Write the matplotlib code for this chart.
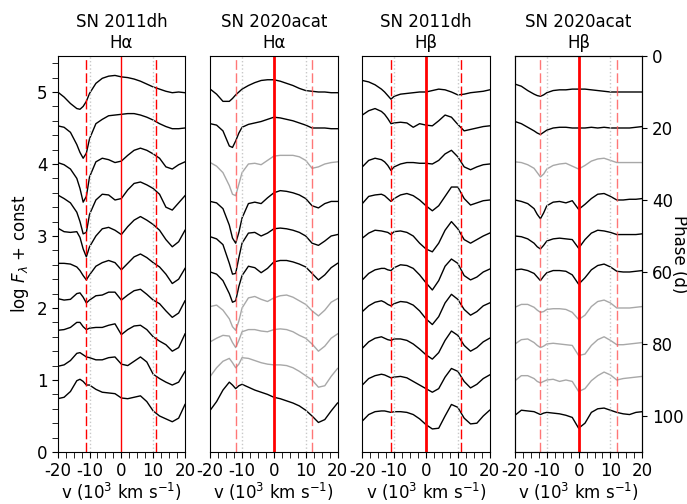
import matplotlib
matplotlib.use('Agg')

import matplotlib.pyplot as plt
from matplotlib.ticker import MultipleLocator

# velocity grid (10^3 km/s), shared by all spectra
vel = [-20, -18, -16, -14, -13, -12, -11, -10, -8, -6, -4, -2, 0,
       2, 4, 6, 8, 10, 12, 14, 16, 18, 20]

titles = ["SN 2011dh\nHα", "SN 2020acat\nHα", "SN 2011dh\nHβ", "SN 2020acat\nHβ"]

# SN 2011dh H-alpha, log F + const, top to bottom
dh_ha = [
    [5.00, 4.93, 4.84, 4.77, 4.76, 4.80, 4.87, 4.98, 5.12, 5.19, 5.22, 5.23, 5.21, 5.20, 5.18, 5.15, 5.11, 5.07, 5.04, 5.01, 4.99, 5.00, 4.99],
    [4.53, 4.51, 4.44, 4.27, 4.16, 4.08, 4.15, 4.35, 4.56, 4.62, 4.67, 4.68, 4.69, 4.70, 4.70, 4.68, 4.65, 4.61, 4.56, 4.52, 4.49, 4.49, 4.50],
    [4.02, 3.99, 3.93, 3.80, 3.66, 3.47, 3.55, 3.82, 4.03, 4.08, 4.06, 4.02, 4.04, 4.12, 4.19, 4.22, 4.19, 4.14, 4.08, 3.96, 3.93, 3.99, 4.03],
    [3.57, 3.52, 3.46, 3.33, 3.20, 3.03, 3.05, 3.30, 3.50, 3.58, 3.57, 3.50, 3.52, 3.64, 3.73, 3.75, 3.71, 3.66, 3.58, 3.40, 3.36, 3.46, 3.56],
    [3.11, 3.06, 3.05, 3.06, 2.98, 2.82, 2.71, 2.85, 3.00, 3.10, 3.12, 3.08, 3.02, 3.13, 3.22, 3.27, 3.22, 3.16, 3.08, 2.95, 2.85, 2.92, 3.08],
    [2.62, 2.62, 2.61, 2.57, 2.52, 2.45, 2.39, 2.46, 2.58, 2.63, 2.66, 2.63, 2.53, 2.62, 2.71, 2.75, 2.70, 2.63, 2.57, 2.47, 2.34, 2.40, 2.55],
    [2.13, 2.11, 2.12, 2.20, 2.21, 2.15, 2.07, 2.11, 2.17, 2.18, 2.22, 2.22, 2.11, 2.18, 2.24, 2.26, 2.19, 2.11, 2.06, 1.96, 1.87, 1.93, 2.10],
    [1.69, 1.70, 1.73, 1.80, 1.80, 1.74, 1.70, 1.72, 1.73, 1.73, 1.76, 1.78, 1.63, 1.70, 1.75, 1.76, 1.70, 1.60, 1.54, 1.49, 1.40, 1.45, 1.64],
    [1.19, 1.21, 1.27, 1.37, 1.38, 1.35, 1.32, 1.31, 1.28, 1.28, 1.31, 1.32, 1.22, 1.20, 1.26, 1.32, 1.25, 1.08, 1.02, 0.97, 0.93, 0.97, 1.12],
    [0.74, 0.76, 0.84, 0.99, 1.01, 0.98, 0.93, 0.93, 0.87, 0.83, 0.82, 0.81, 0.75, 0.74, 0.76, 0.78, 0.70, 0.57, 0.50, 0.46, 0.42, 0.47, 0.66],
]

# SN 2020acat H-alpha
acat_ha = [
    [5.04, 4.97, 4.87, 4.87, 4.91, 4.96, 5.00, 5.04, 5.09, 5.13, 5.16, 5.17, 5.17, 5.15, 5.12, 5.09, 5.05, 5.02, 5.01, 5.00, 5.00, 4.99, 4.99],
    [4.56, 4.54, 4.46, 4.25, 4.23, 4.32, 4.43, 4.51, 4.55, 4.57, 4.59, 4.62, 4.65, 4.64, 4.62, 4.60, 4.57, 4.54, 4.50, 4.50, 4.50, 4.49, 4.49],
    [4.02, 3.97, 3.88, 3.70, 3.58, 3.56, 3.72, 3.88, 4.00, 4.01, 3.99, 4.05, 4.11, 4.12, 4.12, 4.12, 4.10, 4.05, 3.94, 3.96, 4.00, 4.02, 4.03],
    [3.48, 3.46, 3.38, 3.15, 2.97, 2.90, 3.05, 3.25, 3.45, 3.47, 3.45, 3.53, 3.60, 3.63, 3.62, 3.60, 3.57, 3.52, 3.42, 3.39, 3.45, 3.48, 3.48],
    [2.99, 2.96, 2.88, 2.62, 2.47, 2.48, 2.70, 2.90, 3.04, 3.05, 3.00, 3.04, 3.10, 3.11, 3.10, 3.08, 3.05, 3.00, 2.90, 2.87, 2.93, 3.00, 3.02],
    [2.50, 2.47, 2.38, 2.20, 2.08, 2.10, 2.30, 2.45, 2.58, 2.56, 2.49, 2.55, 2.64, 2.66, 2.66, 2.64, 2.61, 2.57, 2.48, 2.39, 2.46, 2.56, 2.62],
    [2.02, 2.04, 1.97, 1.85, 1.74, 1.69, 1.82, 2.00, 2.14, 2.16, 2.12, 2.09, 2.14, 2.17, 2.18, 2.15, 2.10, 2.05, 1.96, 1.89, 1.97, 2.08, 2.13],
    [1.53, 1.58, 1.62, 1.61, 1.52, 1.45, 1.55, 1.67, 1.70, 1.70, 1.68, 1.67, 1.70, 1.71, 1.70, 1.67, 1.62, 1.58, 1.50, 1.40, 1.47, 1.58, 1.64],
    [1.05, 1.17, 1.26, 1.30, 1.24, 1.17, 1.22, 1.31, 1.30, 1.27, 1.24, 1.22, 1.21, 1.21, 1.20, 1.17, 1.12, 1.06, 1.00, 0.90, 0.92, 1.05, 1.16],
    [0.58, 0.70, 0.86, 0.97, 0.93, 0.88, 0.92, 0.94, 0.90, 0.86, 0.83, 0.80, 0.76, 0.74, 0.71, 0.68, 0.64, 0.58, 0.50, 0.41, 0.45, 0.57, 0.68],
]

# SN 2011dh H-beta
dh_hb = [
    [5.16, 5.14, 5.10, 5.04, 5.00, 4.95, 4.90, 4.94, 4.97, 4.98, 4.99, 5.00, 5.00, 5.02, 5.04, 5.03, 5.00, 4.96, 4.97, 4.99, 5.00, 5.01, 5.03],
    [4.68, 4.74, 4.77, 4.73, 4.69, 4.63, 4.56, 4.57, 4.58, 4.57, 4.51, 4.56, 4.54, 4.53, 4.60, 4.68, 4.65, 4.55, 4.46, 4.48, 4.50, 4.52, 4.53],
    [3.96, 4.05, 4.08, 4.06, 4.03, 3.98, 3.91, 3.96, 4.00, 4.02, 4.02, 4.01, 4.01, 4.00, 4.05, 4.14, 4.19, 4.10, 3.96, 3.92, 3.96, 3.99, 4.00],
    [3.45, 3.55, 3.57, 3.58, 3.56, 3.52, 3.48, 3.52, 3.57, 3.59, 3.56, 3.50, 3.42, 3.35, 3.42, 3.55, 3.68, 3.68, 3.52, 3.43, 3.46, 3.49, 3.50],
    [2.97, 3.04, 3.08, 3.07, 3.06, 3.05, 3.02, 3.06, 3.07, 3.05, 3.00, 2.90, 2.82, 2.78, 2.90, 3.08, 3.20, 3.10, 2.95, 2.90, 2.95, 3.00, 3.04],
    [2.39, 2.48, 2.53, 2.55, 2.55, 2.53, 2.52, 2.56, 2.60, 2.59, 2.55, 2.46, 2.35, 2.25, 2.38, 2.58, 2.68, 2.62, 2.45, 2.39, 2.43, 2.50, 2.54],
    [1.95, 2.03, 2.08, 2.10, 2.08, 2.05, 2.03, 2.06, 2.09, 2.08, 2.04, 1.96, 1.85, 1.77, 1.88, 2.07, 2.19, 2.12, 1.98, 1.90, 1.95, 2.03, 2.07],
    [1.44, 1.53, 1.58, 1.60, 1.58, 1.56, 1.55, 1.57, 1.57, 1.55, 1.50, 1.43, 1.35, 1.29, 1.38, 1.55, 1.68, 1.62, 1.48, 1.40, 1.45, 1.53, 1.58],
    [0.93, 1.02, 1.06, 1.08, 1.07, 1.05, 1.03, 1.04, 1.05, 1.03, 0.98, 0.93, 0.88, 0.83, 0.88, 1.04, 1.16, 1.12, 0.98, 0.89, 0.94, 1.02, 1.07],
    [0.43, 0.52, 0.56, 0.57, 0.57, 0.56, 0.55, 0.56, 0.56, 0.55, 0.52, 0.46, 0.38, 0.32, 0.33, 0.50, 0.66, 0.62, 0.47, 0.39, 0.40, 0.50, 0.58],
]

# SN 2020acat H-beta
acat_hb = [
    [5.11, 5.08, 5.02, 4.97, 4.95, 4.94, 4.96, 4.99, 5.02, 5.03, 5.03, 5.04, 5.04, 5.04, 5.03, 5.02, 5.01, 5.00, 5.00, 5.00, 5.00, 5.00, 5.00],
    [4.59, 4.56, 4.51, 4.46, 4.43, 4.41, 4.44, 4.47, 4.50, 4.51, 4.51, 4.50, 4.50, 4.50, 4.51, 4.50, 4.51, 4.50, 4.50, 4.50, 4.50, 4.51, 4.52],
    [4.03, 4.02, 3.99, 3.94, 3.88, 3.82, 3.86, 3.93, 3.98, 4.00, 4.01, 3.97, 3.93, 3.98, 4.04, 4.07, 4.08, 4.05, 4.02, 4.02, 4.02, 4.02, 4.02],
    [3.50, 3.48, 3.45, 3.38, 3.30, 3.24, 3.32, 3.42, 3.47, 3.48, 3.46, 3.49, 3.37, 3.44, 3.52, 3.58, 3.59, 3.55, 3.50, 3.50, 3.51, 3.51, 3.52],
    [3.00, 2.99, 2.96, 2.90, 2.85, 2.82, 2.87, 2.93, 2.96, 2.97, 2.96, 2.95, 2.83, 2.95, 3.04, 3.08, 3.07, 3.05, 3.02, 3.02, 3.02, 3.02, 3.03],
    [2.53, 2.54, 2.52, 2.48, 2.43, 2.38, 2.44, 2.49, 2.52, 2.52, 2.51, 2.46, 2.33, 2.42, 2.53, 2.59, 2.61, 2.57, 2.51, 2.50, 2.50, 2.51, 2.52],
    [2.01, 2.05, 2.05, 2.01, 1.97, 1.94, 1.95, 1.98, 1.99, 1.99, 1.98, 1.94, 1.84, 1.90, 2.02, 2.09, 2.11, 2.07, 2.00, 2.00, 2.00, 2.01, 2.02],
    [1.50, 1.56, 1.57, 1.52, 1.48, 1.45, 1.47, 1.50, 1.51, 1.50, 1.49, 1.48, 1.34, 1.36, 1.48, 1.56, 1.60, 1.55, 1.49, 1.49, 1.50, 1.51, 1.52],
    [0.99, 1.06, 1.06, 1.02, 0.98, 0.96, 0.98, 1.00, 1.01, 0.98, 1.00, 0.98, 0.84, 0.88, 0.99, 1.06, 1.11, 1.07, 1.00, 1.02, 1.03, 1.04, 1.05],
    [0.51, 0.58, 0.57, 0.56, 0.54, 0.52, 0.54, 0.55, 0.54, 0.53, 0.51, 0.48, 0.33, 0.40, 0.55, 0.60, 0.61, 0.58, 0.55, 0.53, 0.52, 0.55, 0.56],
]

panels = [dh_ha, acat_ha, dh_hb, acat_hb]
# spectra drawn in grey for SN 2020acat
acat_grey = [2, 6, 7, 8]
# absorption marker velocity per panel
marker_v = [11, 12, 11, 12]
phase_ticks = [0, 20, 40, 60, 80, 100]

plt.rcParams['font.size'] = 12

fig = plt.figure(figsize=(6.87, 5.04), dpi=100)
lefts = [0.084, 0.306, 0.5274, 0.7496]
axes = [fig.add_axes([l, 0.1032, 0.1853, 0.7857]) for l in lefts]

for k, ax in enumerate(axes):
    acat = k in (1, 3)
    for i, flux in enumerate(panels[k]):
        col = "#a8a8a8" if (acat and i in acat_grey) else "black"
        ax.plot(vel, flux, color=col, lw=1)
    # guide lines
    for s in (-1, 1):
        ax.axvline(s * 10, color="#c8c8c8", ls=":", lw=1)
        if acat:
            ax.axvline(s * marker_v[k], color="#ff5555", lw=1, alpha=0.8,
                       dashes=(7, 2.5))
        else:
            ax.axvline(s * marker_v[k], color="red", lw=1, dashes=(7, 2.5))
    ax.axvline(0, color="red", lw=1 if k == 0 else 2)

    ax.set_xlim(-20, 20)
    ax.set_ylim(0, 5.5)
    ax.set_xticks([-20, -10, 0, 10, 20])
    ax.set_xticklabels(["-20", "-10", "0", "10", "20"])
    ax.xaxis.set_minor_locator(MultipleLocator(2.5))
    ax.tick_params(which='both', length=4)
    ax.set_xlabel(r"v (10$^3$ km s$^{-1}$)", labelpad=0)
    ax.set_title(titles[k], fontsize=12)
    if k == 0:
        ax.yaxis.set_major_locator(MultipleLocator(1))
        ax.yaxis.set_minor_locator(MultipleLocator(0.2))
        ax.set_ylabel(r"log $F_\lambda$ + const")
    else:
        ax.set_yticks([])

# phase axis on the right
tw = axes[3].twinx()
tw.set_ylim(110, 0)
tw.set_yticks(phase_ticks)
tw.set_ylabel("Phase (d)", rotation=270, va="center", ha="center")
tw.yaxis.set_label_coords(1.29, 0.5)

fig.savefig("out.png", dpi=100)
